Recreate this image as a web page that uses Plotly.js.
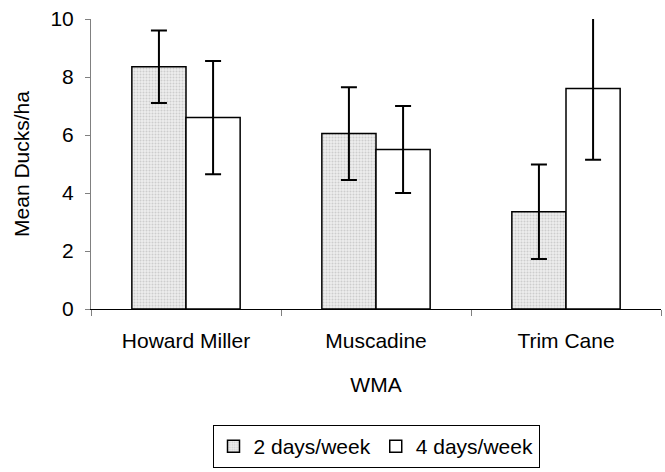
<!DOCTYPE html>
<html>
<head>
<meta charset="utf-8">
<script src="https://cdn.plot.ly/plotly-3.0.1.min.js"></script>
<style>html,body{margin:0;padding:0;background:#fff;}#chart{width:665px;height:472px;}</style>
</head>
<body>
<div id="chart"></div>
<script>
const categories = ["Howard Miller", "Muscadine", "Trim Cane"];
const series2Name = "2 days/week";
const series2Values = [8.35, 6.05, 3.35];
const series2Errors = [1.25, 1.6, 1.63];
const series4Name = "4 days/week";
const series4Values = [6.6, 5.5, 7.6];
const series4Errors = [1.95, 1.5, 2.45];
const yTicks = [0, 2, 4, 6, 8, 10];

const font = {family: "Liberation Sans, Arial, sans-serif", size: 21, color: "#000"};

const traces = [
  {
    type: "bar", name: series2Name, x: categories, y: series2Values,
    marker: {color: "#e6e6e6", line: {color: "#000", width: 1.5},
      pattern: {shape: ".", fgcolor: "#cdcdcd", bgcolor: "#eeeeee", size: 3, solidity: 0.35}},
    error_y: {type: "data", array: series2Errors, visible: true, color: "#000", thickness: 2, width: 8}
  },
  {
    type: "bar", name: series4Name, x: categories, y: series4Values,
    marker: {color: "#ffffff", line: {color: "#000", width: 1.5}},
    error_y: {type: "data", array: series4Errors, visible: true, color: "#000", thickness: 2, width: 8}
  }
];

const layout = {
  width: 665, height: 472,
  margin: {l: 91, r: 4, t: 19, b: 158},
  paper_bgcolor: "#fff", plot_bgcolor: "#fff",
  font: font,
  barmode: "group", bargap: 0.43, bargroupgap: 0,
  showlegend: true,
  legend: {orientation: "h", x: 0.5, xanchor: "center", y: -0.4, yanchor: "top",
    bordercolor: "#000", borderwidth: 1, font: font, itemwidth: 30, traceorder: "normal"},
  xaxis: {
    type: "category", tickson: "boundaries", ticks: "outside", ticklen: 6, tickcolor: "#808080",
    showline: true, linecolor: "#000", linewidth: 1, showgrid: false, zeroline: false,
    tickfont: font, ticklabelstandoff: 13, title: {text: "WMA", font: font, standoff: 26}
  },
  yaxis: {
    range: [0, 10], tickvals: yTicks, ticks: "outside", ticklen: 5, tickcolor: "#808080",
    showline: true, linecolor: "#808080", linewidth: 1, showgrid: false, zeroline: false,
    tickfont: font, ticklabelstandoff: 7, title: {text: "Mean Ducks/ha", font: font, standoff: 15}
  }
};

Plotly.newPlot("chart", traces, layout, {displayModeBar: false, staticPlot: true});
</script>
</body>
</html>
